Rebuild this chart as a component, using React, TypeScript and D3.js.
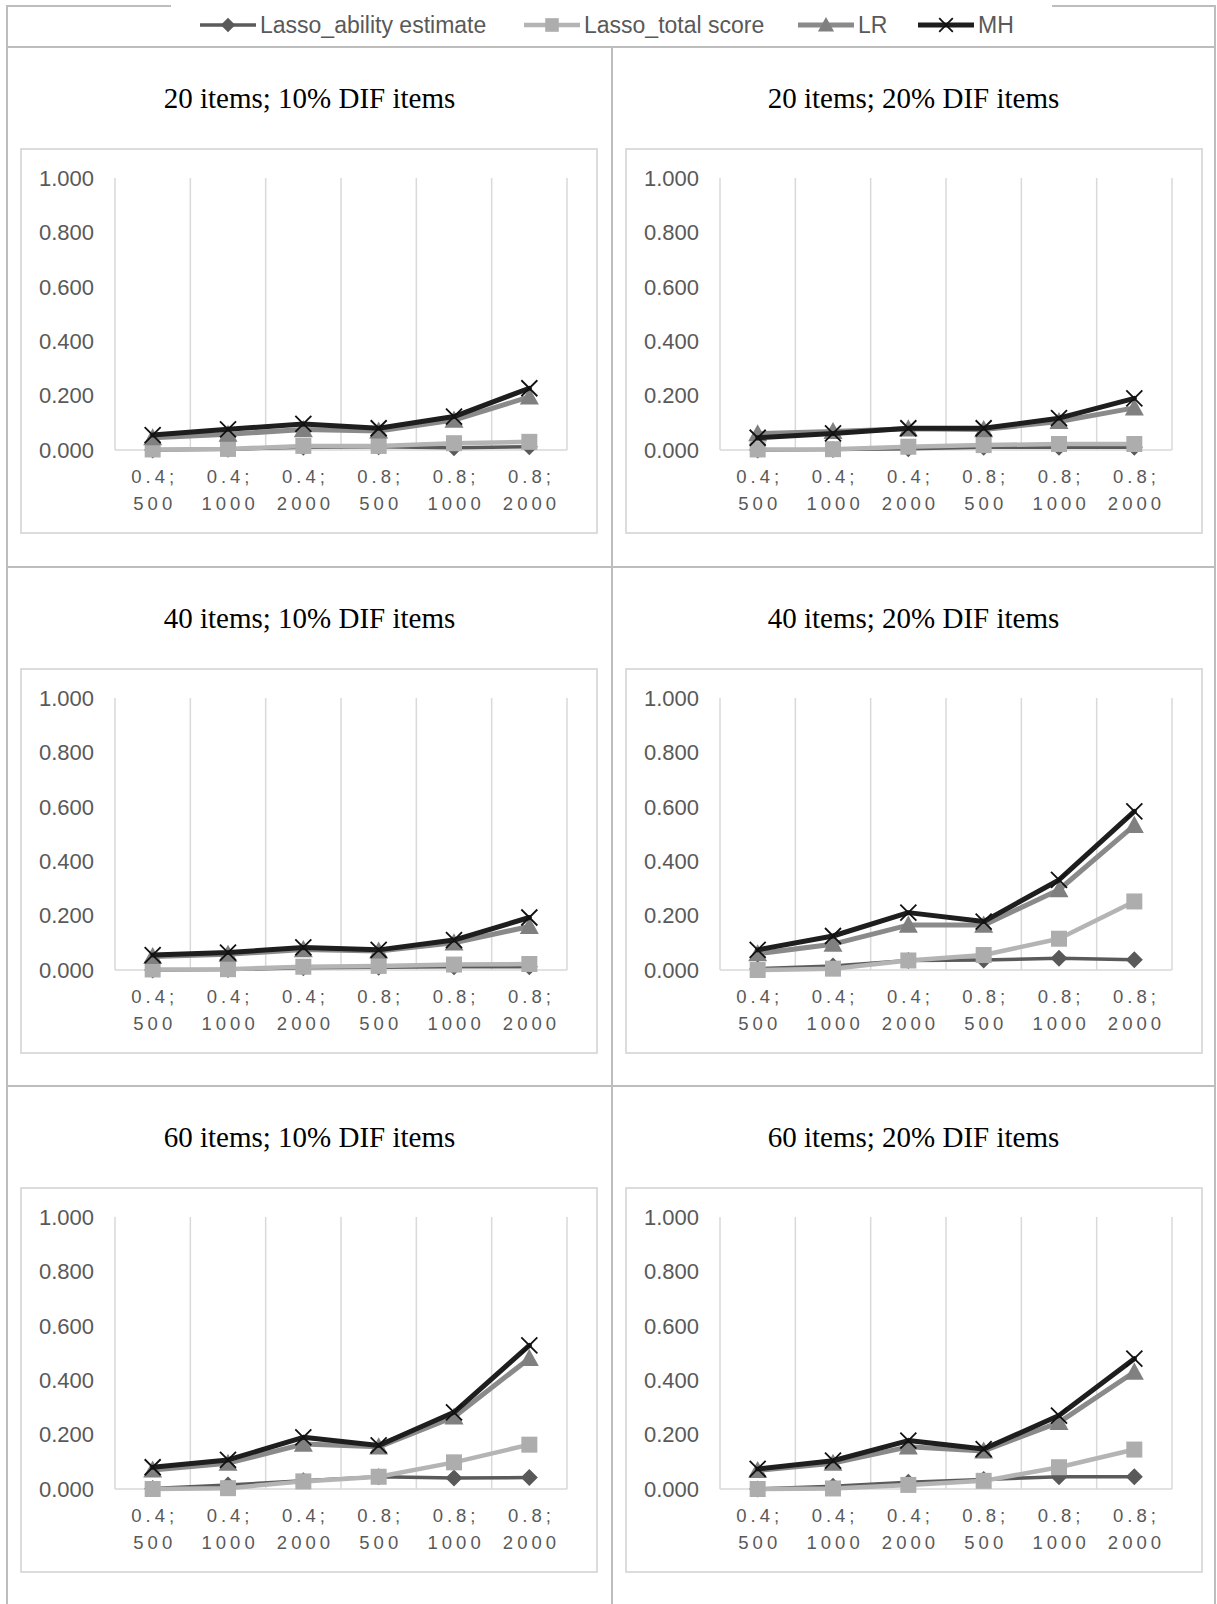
import React from "react";
import * as d3 from "d3";

// ---------- data ----------
const catLine1 = ["0.4;", "0.4;", "0.4;", "0.8;", "0.8;", "0.8;"];
const catLine2 = ["500", "1000", "2000", "500", "1000", "2000"];
const panelTitles = [
  "20 items; 10% DIF items",
  "20 items; 20% DIF items",
  "40 items; 10% DIF items",
  "40 items; 20% DIF items",
  "60 items; 10% DIF items",
  "60 items; 20% DIF items",
];
const yTicks = [0, 0.2, 0.4, 0.6, 0.8, 1.0];
const seriesNames = ["Lasso_ability estimate", "Lasso_total score", "LR", "MH"];

// one row per panel (same order as panelTitles)
const lassoAbility = [
  [0.0, 0.003, 0.01, 0.012, 0.008, 0.012],
  [0.0, 0.002, 0.005, 0.01, 0.01, 0.01],
  [0.0, 0.002, 0.008, 0.01, 0.012, 0.012],
  [0.005, 0.015, 0.035, 0.037, 0.043, 0.038],
  [0.002, 0.015, 0.03, 0.045, 0.04, 0.042],
  [0.0, 0.01, 0.025, 0.035, 0.045, 0.045],
];
const lassoTotal = [
  [0.002, 0.004, 0.015, 0.015, 0.025, 0.03],
  [0.002, 0.003, 0.012, 0.018, 0.022, 0.022],
  [0.002, 0.003, 0.012, 0.015, 0.02, 0.022],
  [0.0, 0.005, 0.035, 0.055, 0.115, 0.252],
  [0.0, 0.003, 0.028, 0.045, 0.098, 0.163],
  [0.0, 0.002, 0.015, 0.03, 0.08, 0.145],
];
const lr = [
  [0.045, 0.058, 0.075, 0.07, 0.11, 0.195],
  [0.06, 0.068, 0.078, 0.075, 0.105, 0.155],
  [0.05, 0.058, 0.075, 0.07, 0.1, 0.16],
  [0.06, 0.095, 0.165, 0.165, 0.295, 0.532],
  [0.07, 0.095, 0.165, 0.155, 0.265, 0.48],
  [0.068, 0.095, 0.155, 0.14, 0.245, 0.43],
];
const mh = [
  [0.055, 0.076, 0.096, 0.08, 0.123, 0.227],
  [0.045, 0.061, 0.08, 0.08, 0.117, 0.19],
  [0.055, 0.064, 0.083, 0.074, 0.11, 0.193],
  [0.074, 0.125, 0.211, 0.178, 0.331, 0.583],
  [0.08, 0.107, 0.19, 0.16, 0.282, 0.528],
  [0.074, 0.104, 0.178, 0.147, 0.27, 0.479],
];

// ---------- styles ----------
const seriesStyle = [
  { line: "#5a5a5a", fill: "#595959", width: 3.5, marker: "diamond" },
  { line: "#b4b4b4", fill: "#adadad", width: 4.5, marker: "square" },
  { line: "#8a8a8a", fill: "#808080", width: 5, marker: "triangle" },
  { line: "#1e1e1e", fill: "#111111", width: 5, marker: "x" },
];

const W = 1217;
const H = 1604;
const colLeft = [7, 612];
const colRight = [612, 1215];
const rowTop = [47, 567, 1086];
const SANS = "'Liberation Sans', Arial, sans-serif";
const SERIF = "'Liberation Serif', 'Times New Roman', serif";
const TABLE = "#bdbdbd";
const GRID = "#d9d9d9";
const TXT = "#595959";

function Marker({ type, x, y, fill, k = 1 }: { type: string; x: number; y: number; fill: string; k?: number }) {
  if (type === "diamond") {
    const s = 8.5 * k;
    return <path d={`M${x},${y - s}L${x + s},${y}L${x},${y + s}L${x - s},${y}Z`} fill={fill} />;
  }
  if (type === "square") {
    const s = 8 * k;
    return <rect x={x - s} y={y - s} width={2 * s} height={2 * s} fill={fill} />;
  }
  if (type === "triangle") {
    const s = 9.5 * k;
    return <path d={`M${x},${y - s}L${x + s},${y + s * 0.8}L${x - s},${y + s * 0.8}Z`} fill={fill} />;
  }
  const s = 8 * k;
  return (
    <path
      d={`M${x - s},${y - s}L${x + s},${y + s}M${x - s},${y + s}L${x + s},${y - s}`}
      stroke={fill}
      strokeWidth={1.8}
      fill="none"
    />
  );
}

function Panel({ idx }: { idx: number }) {
  const col = idx % 2;
  const row = Math.floor(idx / 2);
  const cl = colLeft[col];
  const cr = colRight[col];
  const top = rowTop[row];
  const boxL = cl + 14;
  const boxW = 576;
  const plotL = boxL + 94;
  const plotW = 452;
  const y = d3.scaleLinear().domain([0, 1]).range([top + 403, top + 131]);
  const x = d3
    .scaleBand<number>()
    .domain(d3.range(catLine1.length))
    .range([plotL, plotL + plotW]);
  const bw = x.bandwidth();
  const cx = (i: number) => (x(i) as number) + bw / 2;
  const data = [lassoAbility[idx], lassoTotal[idx], lr[idx], mh[idx]];
  const line = d3
    .line<number>()
    .x((_, i) => cx(i))
    .y((d) => y(d));
  const fmt = d3.format(".3f");
  return (
    <g>
      <text
        x={(cl + cr) / 2}
        y={top + 61}
        textAnchor="middle"
        fontFamily={SERIF}
        fontSize={29}
        fill="#000"
      >
        {panelTitles[idx]}
      </text>
      <rect x={boxL} y={top + 102} width={boxW} height={384} fill="#fff" stroke={GRID} strokeWidth={1.8} />
      {d3.range(catLine1.length + 1).map((k) => (
        <line
          key={"g" + k}
          x1={plotL + k * bw}
          x2={plotL + k * bw}
          y1={y(1)}
          y2={y(0)}
          stroke={GRID}
          strokeWidth={1.5}
        />
      ))}
      <line x1={plotL} x2={plotL + plotW} y1={y(0)} y2={y(0)} stroke={GRID} strokeWidth={1.5} />
      {yTicks.map((t) => (
        <text
          key={"y" + t}
          x={plotL - 21}
          y={y(t) + 7.8}
          textAnchor="end"
          fontFamily={SANS}
          fontSize={22}
          fill={TXT}
        >
          {fmt(t)}
        </text>
      ))}
      {catLine1.map((c, i) => (
        <g key={"x" + i}>
          <text
            x={cx(i) + 2.1}
            y={top + 436}
            textAnchor="middle"
            fontFamily={SANS}
            fontSize={18.5}
            letterSpacing={4}
            fill={TXT}
          >
            {c}
          </text>
          <text
            x={cx(i) + 2.1}
            y={top + 463}
            textAnchor="middle"
            fontFamily={SANS}
            fontSize={18.5}
            letterSpacing={4}
            fill={TXT}
          >
            {catLine2[i]}
          </text>
        </g>
      ))}
      {data.map((vals, s) => (
        <g key={"s" + s}>
          <path
            d={line(vals) || ""}
            fill="none"
            stroke={seriesStyle[s].line}
            strokeWidth={seriesStyle[s].width}
            strokeLinejoin="round"
            strokeLinecap="round"
          />
          {vals.map((v, i) => (
            <Marker key={i} type={seriesStyle[s].marker} x={cx(i)} y={y(v)} fill={seriesStyle[s].fill} />
          ))}
        </g>
      ))}
    </g>
  );
}

const legendX = [200, 524, 798, 918];

export default function App() {
  return (
    <div style={{ position: "absolute", left: 0, top: 0 }}>
      <svg width={W} height={H} style={{ display: "block", background: "#fff" }}>
        {/* table grid */}
        <line x1={7} x2={171} y1={6} y2={6} stroke={TABLE} strokeWidth={2} />
        <line x1={1052} x2={1215} y1={6} y2={6} stroke={TABLE} strokeWidth={2} />
        <line x1={7} x2={1215} y1={47} y2={47} stroke={TABLE} strokeWidth={2} />
        <line x1={7} x2={1215} y1={567} y2={567} stroke={TABLE} strokeWidth={2} />
        <line x1={7} x2={1215} y1={1086} y2={1086} stroke={TABLE} strokeWidth={2} />
        <line x1={7} x2={7} y1={5} y2={H} stroke={TABLE} strokeWidth={2} />
        <line x1={612} x2={612} y1={47} y2={H} stroke={TABLE} strokeWidth={2} />
        <line x1={1215} x2={1215} y1={5} y2={H} stroke={TABLE} strokeWidth={2} />
        {/* legend */}
        {seriesNames.map((name, s) => (
          <g key={name}>
            <line
              x1={legendX[s]}
              x2={legendX[s] + 56}
              y1={25}
              y2={25}
              stroke={seriesStyle[s].line}
              strokeWidth={seriesStyle[s].width}
            />
            <Marker type={seriesStyle[s].marker} x={legendX[s] + 28} y={25} fill={seriesStyle[s].fill} k={0.85} />
            <text x={legendX[s] + 60} y={33} fontFamily={SANS} fontSize={23} fill={TXT}>
              {name}
            </text>
          </g>
        ))}
        {panelTitles.map((_, i) => (
          <Panel key={i} idx={i} />
        ))}
      </svg>
    </div>
  );
}
